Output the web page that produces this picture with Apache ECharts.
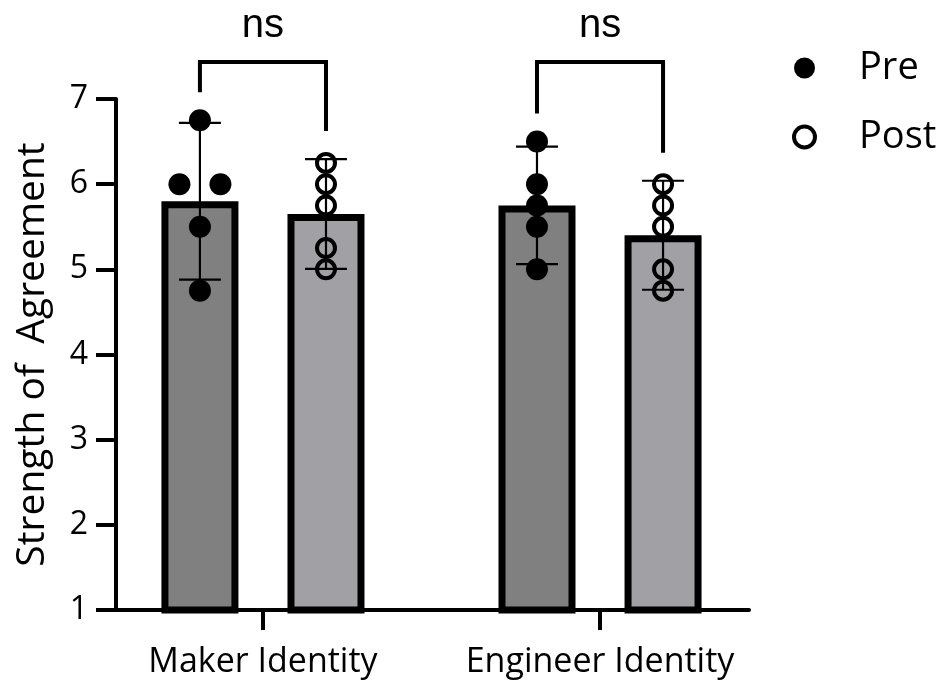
<!DOCTYPE html>
<html>
<head>
<meta charset="utf-8">
<title>Strength of Agreement</title>
<script src="https://cdn.jsdelivr.net/npm/echarts@6/dist/echarts.min.js"></script>
<style>
html, body { margin: 0; padding: 0; background: #fff; }
#chart { width: 943px; height: 681px; }
</style>
</head>
<body>
<div id="chart"></div>
<script>
var categories = ['Maker Identity', 'Engineer Identity'];
var groups = ['Pre', 'Post'];
// individual answers per group
var preMaker = [6.75, 6, 6, 5.5, 4.75];
var postMaker = [6.25, 6, 5.75, 5.25, 5];
var preEngineer = [6.5, 6, 5.75, 5.5, 5];
var postEngineer = [6, 5.75, 5.5, 5, 4.75];
// bar heights and error bar half lengths
var preMeans = [5.8, 5.75];
var postMeans = [5.65, 5.4];
var preErr = [0.92, 0.69];
var postErr = [0.645, 0.64];
var sigLabels = ['ns', 'ns'];

var prePoints = [preMaker, preEngineer];
var postPoints = [postMaker, postEngineer];

var barOffset = 0.187;   // Pre / Post bar offset from category centre (axis units)
var font = 'Open Sans';

function scatterData(lists, side) {
    var out = [];
    lists.forEach(function (values, ci) {
        var counts = {}, seen = {};
        values.forEach(function (v) { counts[v] = (counts[v] || 0) + 1; });
        values.forEach(function (v) {
            var k = seen[v] || 0;
            seen[v] = k + 1;
            out.push({
                value: [ci + side * barOffset, v],
                symbolOffset: [(k - (counts[v] - 1) / 2) * 41, 0]
            });
        });
    });
    return out;
}

var barData = [], errData = [], bracketData = [];
categories.forEach(function (c, i) {
    barData.push({ value: [i - barOffset, preMeans[i]], itemStyle: { color: '#808080' } });
    barData.push({ value: [i + barOffset, postMeans[i]], itemStyle: { color: '#a1a0a5' } });
    errData.push([i - barOffset, preMeans[i] - preErr[i], preMeans[i] + preErr[i]]);
    errData.push([i + barOffset, postMeans[i] - postErr[i], postMeans[i] + postErr[i]]);
    bracketData.push([i,
        Math.max(Math.max.apply(null, prePoints[i]), preMeans[i] + preErr[i]),
        Math.max(Math.max.apply(null, postPoints[i]), postMeans[i] + postErr[i])]);
});

var myChart = echarts.init(document.getElementById('chart'));
myChart.setOption({
    animation: false,
    backgroundColor: '#fff',
    grid: { left: 116, right: 194, top: 99, bottom: 71 },
    legend: {
        orient: 'vertical',
        left: 792,
        top: 48,
        padding: 0,
        itemWidth: 21,
        itemHeight: 21,
        itemGap: 29,
        selectedMode: false,
        textStyle: { fontSize: 38, fontFamily: font, color: '#000', lineHeight: 40, padding: [0, 0, 0, 39] },
        data: [
            { name: 'Pre', icon: 'circle', itemStyle: { color: '#000', opacity: 1 } },
            { name: 'Post', icon: 'circle', itemStyle: { color: 'rgba(0,0,0,0)', borderColor: '#000', borderWidth: 4, opacity: 1 } }
        ]
    },
    xAxis: {
        type: 'value',
        min: -0.436,
        max: 1.442,
        splitLine: { show: false },
        axisLine: { onZero: false, lineStyle: { color: '#000', width: 4 } },
        axisTick: { customValues: [0, 1], length: 20, lineStyle: { color: '#000', width: 4 } },
        axisLabel: {
            customValues: [0, 1],
            margin: 35,
            fontSize: 34,
            fontFamily: font,
            color: '#000',
            formatter: function (v) { return categories[Math.round(v)]; }
        }
    },
    yAxis: {
        type: 'value',
        min: 1,
        max: 7,
        interval: 1,
        name: 'Strength of  Agreement',
        nameLocation: 'middle',
        nameRotate: 90,
        nameGap: 64,
        nameTextStyle: { fontSize: 39, fontFamily: font, color: '#000' },
        splitLine: { show: false },
        axisLine: { show: true, onZero: false, lineStyle: { color: '#000', width: 4 } },
        axisTick: { show: true, length: 20, lineStyle: { color: '#000', width: 4 } },
        axisLabel: { margin: 28, fontSize: 32, fontFamily: font, color: '#000' }
    },
    series: [
        {
            type: 'bar',
            barWidth: 77,
            data: barData,
            itemStyle: { borderColor: '#000', borderWidth: 7 },
            emphasis: { disabled: true },
            z: 2
        },
        {
            type: 'custom',
            data: errData,
            encode: { x: 0, y: 1 },
            z: 3,
            silent: true,
            renderItem: function (params, api) {
                var lo = api.coord([api.value(0), api.value(1)]);
                var hi = api.coord([api.value(0), api.value(2)]);
                var hw = 21;
                var st = { stroke: '#000', lineWidth: 2.2 };
                return {
                    type: 'group',
                    children: [
                        { type: 'line', shape: { x1: lo[0], y1: lo[1], x2: hi[0], y2: hi[1] }, style: st },
                        { type: 'line', shape: { x1: lo[0] - hw, y1: lo[1], x2: lo[0] + hw, y2: lo[1] }, style: st },
                        { type: 'line', shape: { x1: hi[0] - hw, y1: hi[1], x2: hi[0] + hw, y2: hi[1] }, style: st }
                    ]
                };
            }
        },
        {
            name: 'Pre',
            type: 'scatter',
            symbol: 'circle',
            symbolSize: 22,
            data: scatterData(prePoints, -1),
            itemStyle: { color: '#000', opacity: 1 },
            emphasis: { disabled: true },
            z: 4
        },
        {
            name: 'Post',
            type: 'scatter',
            symbol: 'circle',
            symbolSize: 18,
            data: scatterData(postPoints, 1),
            itemStyle: { color: 'rgba(0,0,0,0)', borderColor: '#000', borderWidth: 4, opacity: 1 },
            emphasis: { disabled: true },
            z: 4
        },
        {
            type: 'custom',
            data: bracketData,
            encode: { x: 0, y: 1 },
            clip: false,
            silent: true,
            z: 5,
            renderItem: function (params, api) {
                var i = api.value(0);
                var xl = api.coord([i - barOffset, 7])[0];
                var xr = api.coord([i + barOffset, 7])[0];
                var top = api.coord([i, 7])[1] - 37;
                var yl = api.coord([i, api.value(1)])[1] - 28;
                var yr = api.coord([i, api.value(2)])[1] - 28;
                return {
                    type: 'group',
                    children: [
                        {
                            type: 'polyline',
                            shape: { points: [[xl, yl], [xl, top], [xr, top], [xr, yr]] },
                            style: { stroke: '#000', lineWidth: 4, fill: null, lineJoin: 'miter' }
                        },
                        {
                            type: 'text',
                            x: (xl + xr) / 2,
                            y: top - 36,
                            style: {
                                text: sigLabels[params.dataIndex],
                                fontSize: 40,
                                fontFamily: 'Liberation Sans',
                                fill: '#000',
                                align: 'center',
                                verticalAlign: 'middle'
                            }
                        }
                    ]
                };
            }
        }
    ]
});
</script>
</body>
</html>
